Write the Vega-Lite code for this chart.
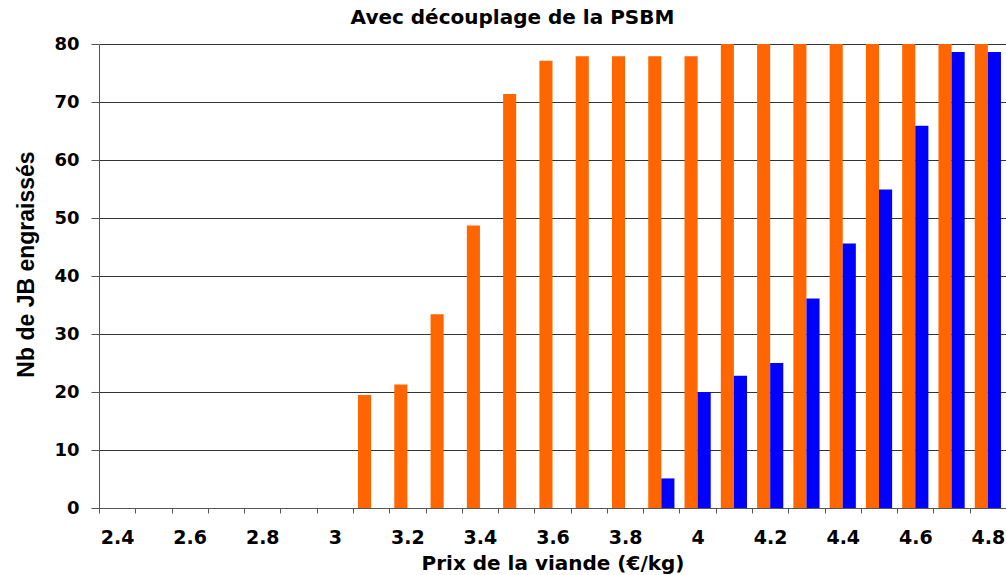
{
  "$schema": "https://vega.github.io/schema/vega-lite/v6.json",
  "width": 907,
  "height": 464,
  "autosize": {"type": "none"},
  "padding": {"left": 99, "top": 44, "right": 0, "bottom": 67},
  "background": "white",
  "title": {
    "text": "Avec découplage de la PSBM",
    "font": "DejaVu Sans",
    "fontWeight": "bold",
    "fontSize": 20,
    "color": "#000000",
    "anchor": "middle",
    "frame": "group",
    "dx": -40,
    "offset": 7
  },
  "data": {
    "values": [
      {"prix": "3.1", "serie": "A", "nb": 19.5},
      {"prix": "3.2", "serie": "A", "nb": 21.3},
      {"prix": "3.3", "serie": "A", "nb": 33.4},
      {"prix": "3.4", "serie": "A", "nb": 48.7},
      {"prix": "3.5", "serie": "A", "nb": 71.4},
      {"prix": "3.6", "serie": "A", "nb": 77.1},
      {"prix": "3.7", "serie": "A", "nb": 77.9},
      {"prix": "3.8", "serie": "A", "nb": 77.9},
      {"prix": "3.9", "serie": "A", "nb": 77.9},
      {"prix": "4", "serie": "A", "nb": 77.9},
      {"prix": "4.1", "serie": "A", "nb": 80},
      {"prix": "4.2", "serie": "A", "nb": 80},
      {"prix": "4.3", "serie": "A", "nb": 80},
      {"prix": "4.4", "serie": "A", "nb": 80},
      {"prix": "4.5", "serie": "A", "nb": 80},
      {"prix": "4.6", "serie": "A", "nb": 80},
      {"prix": "4.7", "serie": "A", "nb": 80},
      {"prix": "4.8", "serie": "A", "nb": 80},
      {"prix": "3.9", "serie": "B", "nb": 5.1},
      {"prix": "4", "serie": "B", "nb": 20},
      {"prix": "4.1", "serie": "B", "nb": 22.8},
      {"prix": "4.2", "serie": "B", "nb": 25},
      {"prix": "4.3", "serie": "B", "nb": 36.1},
      {"prix": "4.4", "serie": "B", "nb": 45.6},
      {"prix": "4.5", "serie": "B", "nb": 54.9},
      {"prix": "4.6", "serie": "B", "nb": 65.9},
      {"prix": "4.7", "serie": "B", "nb": 78.6},
      {"prix": "4.8", "serie": "B", "nb": 78.6}
    ]
  },
  "mark": {"type": "bar", "clip": true},
  "encoding": {
    "x": {
      "field": "prix",
      "type": "nominal",
      "sort": null,
      "scale": {
        "domain": ["2.4","2.5","2.6","2.7","2.8","2.9","3","3.1","3.2","3.3","3.4","3.5","3.6","3.7","3.8","3.9","4","4.1","4.2","4.3","4.4","4.5","4.6","4.7","4.8"],
        "paddingInner": 0,
        "paddingOuter": 0
      },
      "axis": {
        "title": "Prix de la viande (€/kg)",
        "titleFont": "DejaVu Sans",
        "titleFontWeight": "bold",
        "titleFontSize": 20,
        "titleColor": "#000000",
        "titlePadding": 6,
        "labelFont": "DejaVu Sans",
        "labelFontWeight": "bold",
        "labelFontSize": 19,
        "labelColor": "#000000",
        "labelAngle": 0,
        "labelPadding": 15,
        "labelExpr": "round(toNumber(datum.value) * 10) % 2 == 0 ? datum.value : ''",
        "tickBand": "extent",
        "tickSize": 5,
        "tickColor": "#555555",
        "domainColor": "#555555",
        "grid": false
      }
    },
    "xOffset": {
      "field": "serie",
      "type": "nominal",
      "scale": {"domain": ["A", "B"], "paddingInner": 0, "paddingOuter": 0.385}
    },
    "y": {
      "field": "nb",
      "type": "quantitative",
      "scale": {"domain": [0, 80], "nice": false},
      "axis": {
        "title": "Nb de JB engraissés",
        "titleFont": "Liberation Sans",
        "titleFontWeight": "bold",
        "titleFontSize": 23,
        "titleColor": "#000000",
        "titlePadding": 15,
        "titleY": 220,
        "values": [0, 10, 20, 30, 40, 50, 60, 70, 80],
        "labelFont": "DejaVu Sans",
        "labelFontWeight": "bold",
        "labelFontSize": 18,
        "labelColor": "#000000",
        "labelPadding": 12,
        "tickSize": 8,
        "tickColor": "#555555",
        "domainColor": "#555555",
        "grid": true,
        "gridColor": "#333333",
        "gridWidth": 1
      }
    },
    "color": {
      "field": "serie",
      "type": "nominal",
      "scale": {"domain": ["A", "B"], "range": ["#FF6600", "#0000FF"]},
      "legend": null
    }
  },
  "config": {
    "view": {"stroke": null}
  }
}
